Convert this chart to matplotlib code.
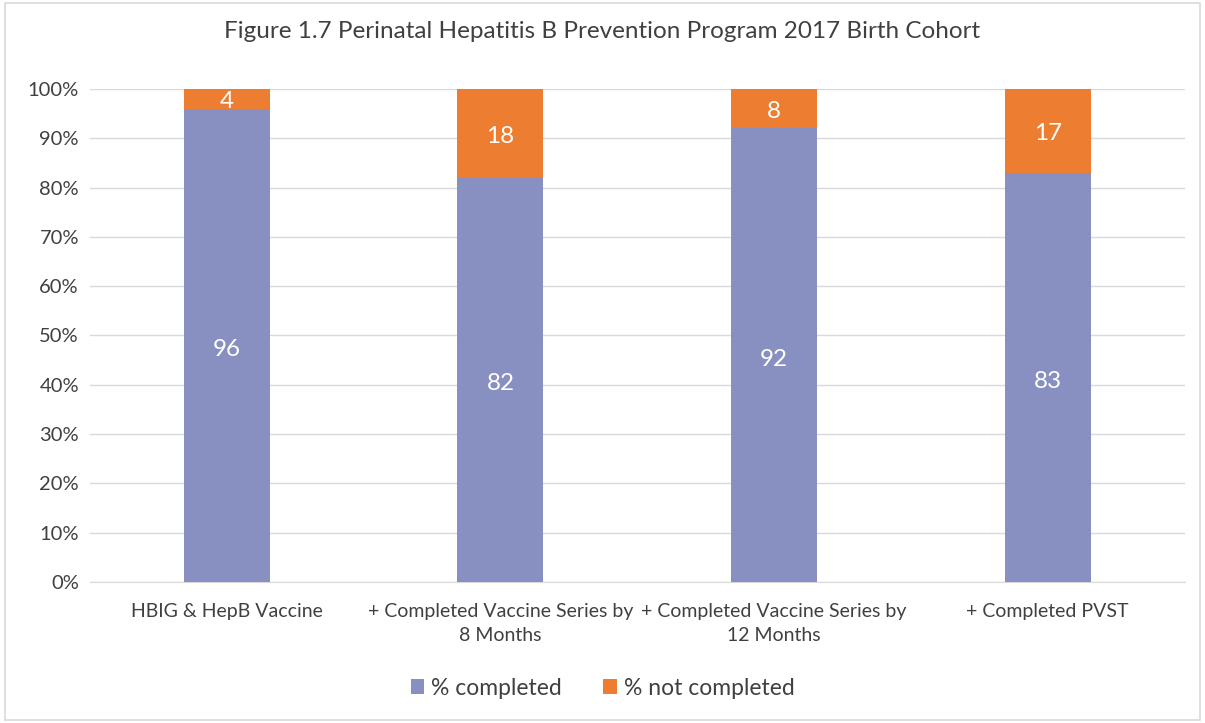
import numpy as np
import matplotlib
matplotlib.use('Agg')
import matplotlib.pyplot as plt
from matplotlib.patches import Rectangle

plt.rcParams.update({'font.family': ['Lato', 'DejaVu Sans'], 'font.size': 12})

categories = ['HBIG & HepB Vaccine',
              '+ Completed Vaccine Series by\n8 Months',
              '+ Completed Vaccine Series by\n12 Months',
              '+ Completed PVST']
completed = [96, 82, 92, 83]
not_completed = [4, 18, 8, 17]

c_done = '#8890C2'
c_not = '#ED7D31'
txt = '#404040'

fig = plt.figure(figsize=(12.05, 7.23), dpi=100)
fig.patches.append(Rectangle((0.004, 0.004), 0.992, 0.992, transform=fig.transFigure,
                             fill=False, edgecolor='#D9D9D9', lw=1.2))
ax = fig.add_axes([0.0747, 0.195, 0.9083, 0.682])

x = np.arange(len(categories))
w = 0.314
b1 = ax.bar(x, completed, w, color=c_done, label='% completed', zorder=3)
b2 = ax.bar(x, not_completed, w, bottom=completed, color=c_not, label='% not completed', zorder=3)

for i in range(len(x)):
    ax.text(x[i], completed[i] / 2 - 0.8, str(completed[i]), ha='center', va='center',
            color='white', fontsize=17.5, zorder=4)
    ax.text(x[i], completed[i] + not_completed[i] / 2 - 0.6, str(not_completed[i]),
            ha='center', va='center', color='white', fontsize=17.5, zorder=4)

ax.set_xlim(-0.5, 3.5)
ax.set_ylim(0, 100)
ax.set_yticks(np.arange(0, 101, 10))
ax.set_yticklabels([f'{v}%' for v in range(0, 101, 10)], color=txt, fontsize=14.5)
ax.set_xticks(x)
ax.set_xticklabels(categories, color=txt, fontsize=14, linespacing=1.5)
ax.tick_params(length=0, pad=8)
ax.tick_params(axis='x', pad=15)
ax.grid(axis='y', color='#D9D9D9', lw=1, zorder=0)
for s in ['top', 'right', 'left']:
    ax.spines[s].set_visible(False)
ax.spines['bottom'].set_color('#D9D9D9')

fig.text(0.5, 0.957, 'Figure 1.7 Perinatal Hepatitis B Prevention Program 2017 Birth Cohort',
         ha='center', va='center', fontsize=17.5, color=txt)

fig.legend(handles=[b1, b2], loc='center', bbox_to_anchor=(0.5, 0.048), ncol=2,
           frameon=False, fontsize=16.5, handlelength=0.6, handleheight=0.6,
           handletextpad=0.3, columnspacing=1.8, labelcolor=txt)

fig.savefig('out.png', dpi=100)
